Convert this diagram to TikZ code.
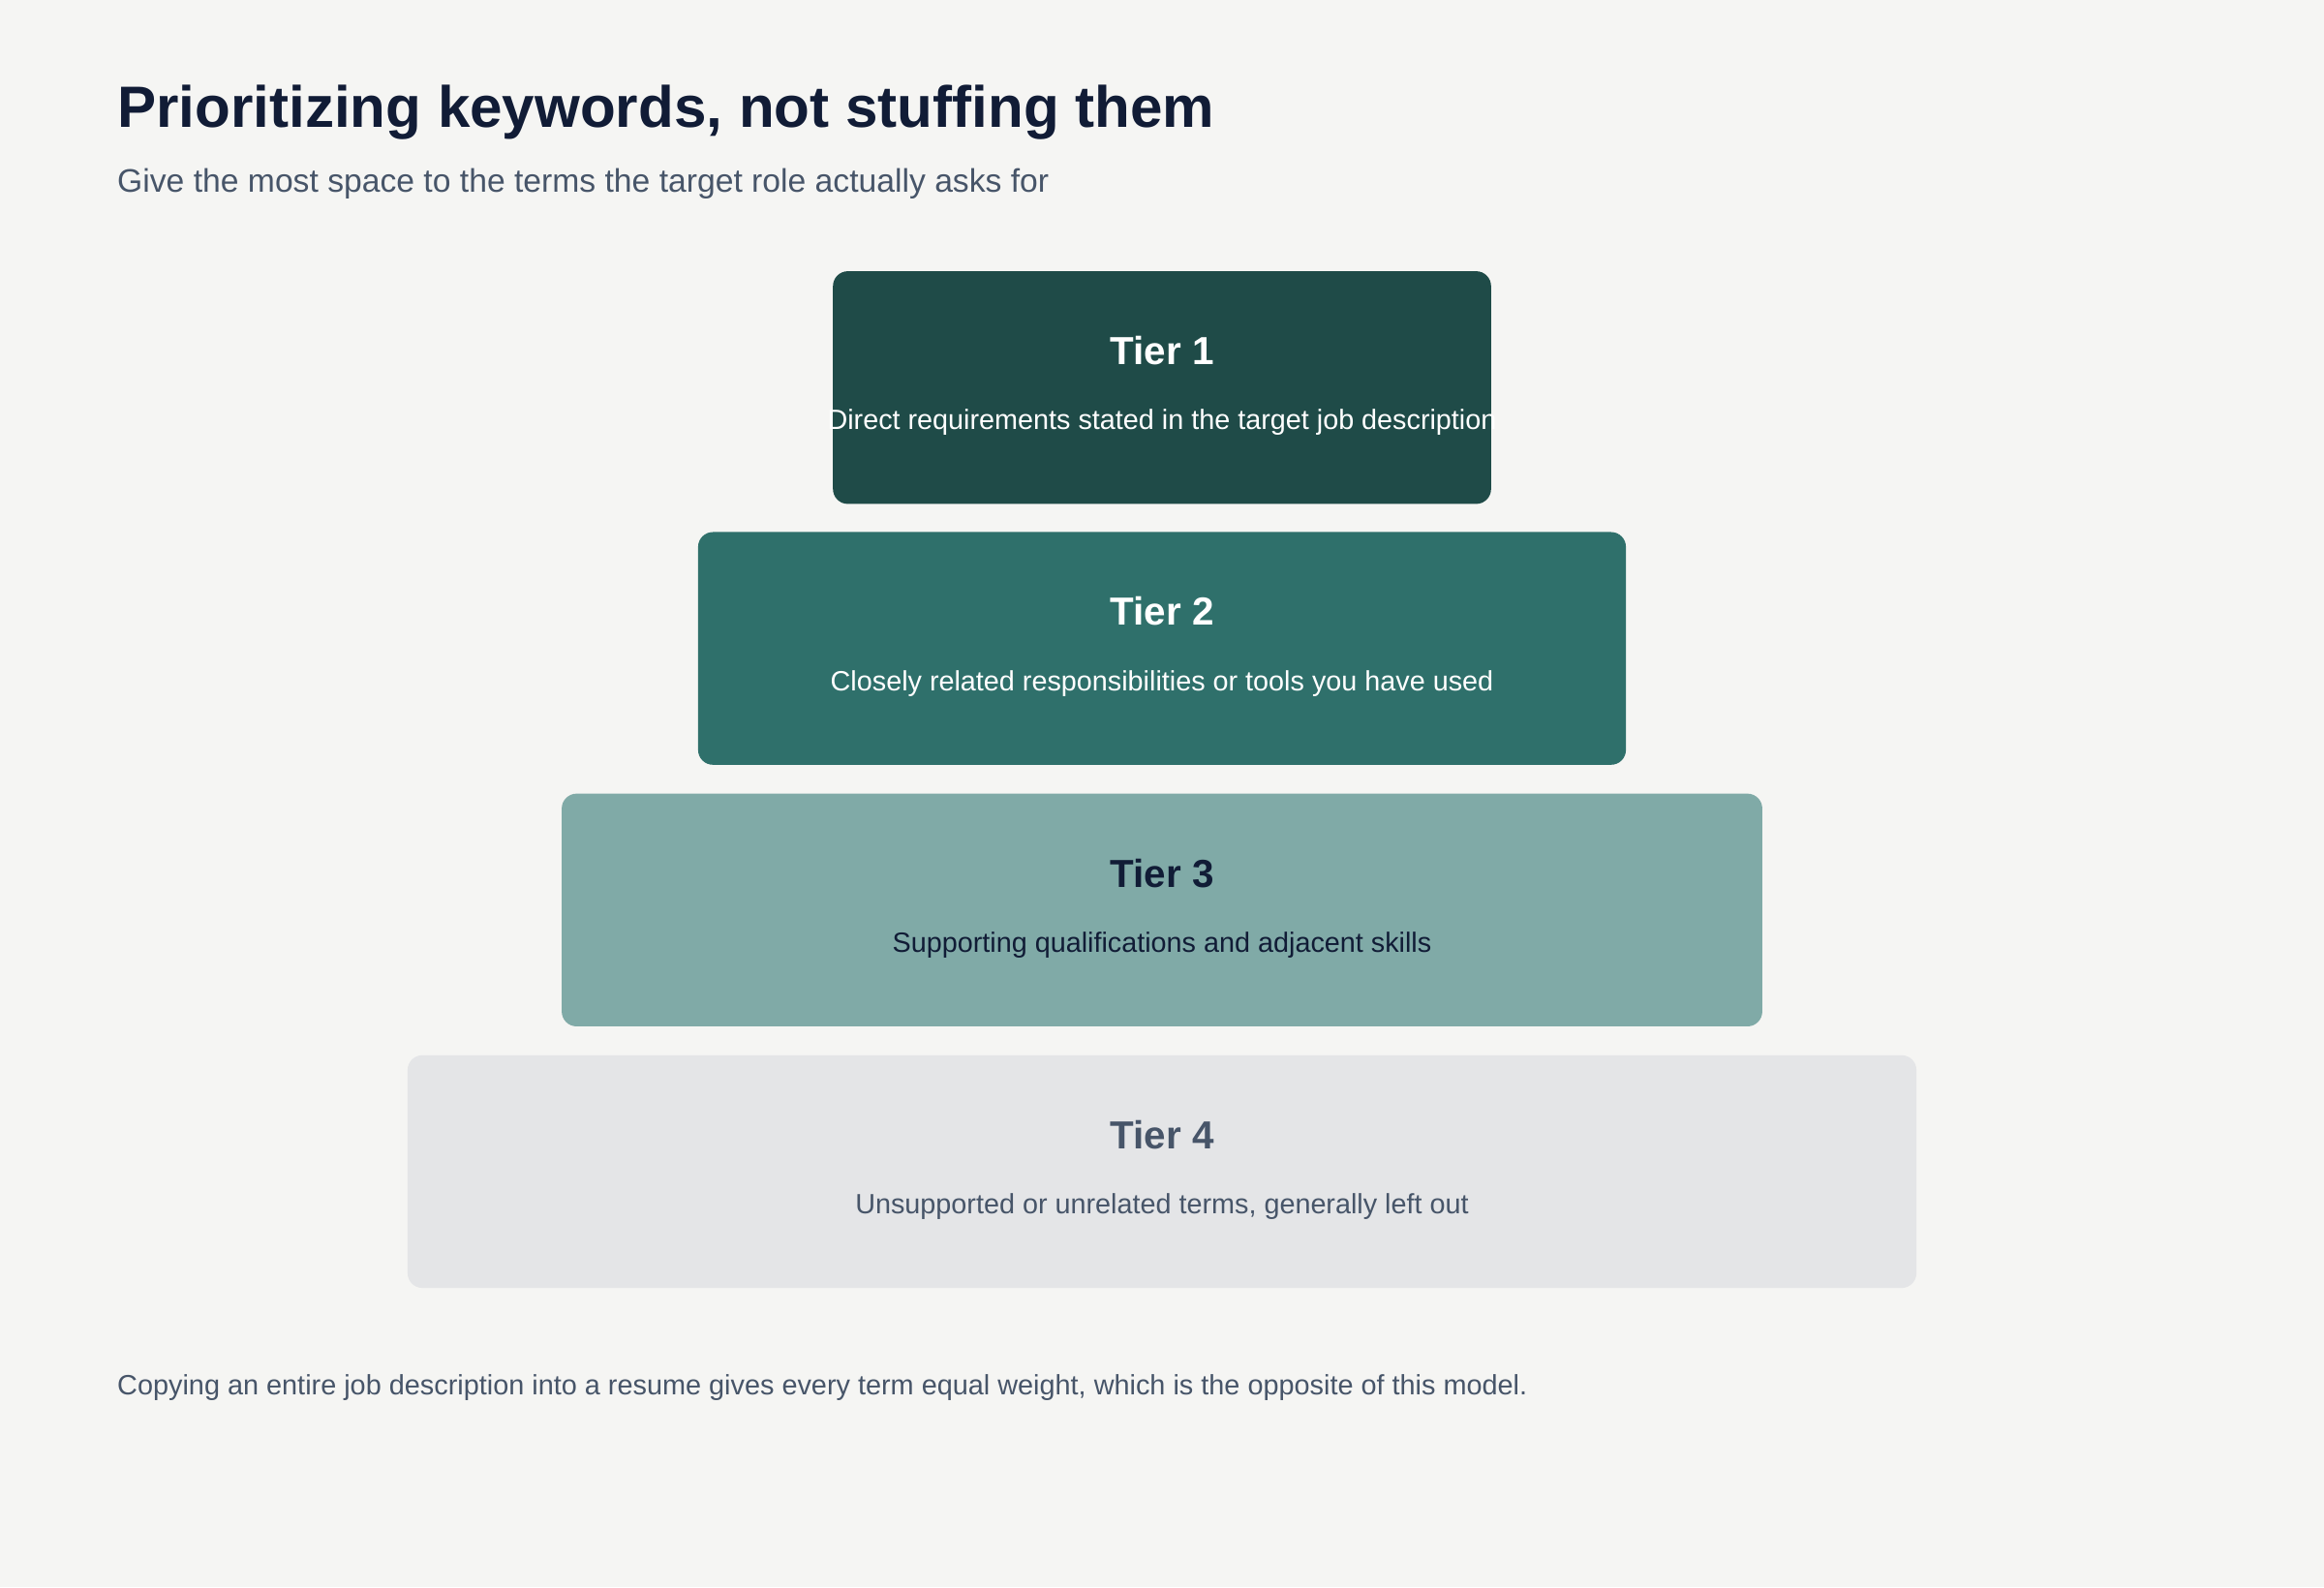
\documentclass[tikz,border=0pt]{standalone}
\usepackage{fontspec}
\setmainfont{Liberation Sans}
\usepackage{tikz}

\definecolor{pagebg}{HTML}{F5F5F3}
\definecolor{ink}{HTML}{111C36}
\definecolor{slate}{HTML}{475569}
\definecolor{tierone}{HTML}{1F4B48}
\definecolor{tiertwo}{HTML}{2F706B}
\definecolor{tierthree}{HTML}{80AAA7}
\definecolor{tierfour}{HTML}{E4E5E7}

\begin{document}
\begin{tikzpicture}[x=1pt, y=-1pt,
    tierbox/.style={rectangle, rounded corners=10pt, minimum height=157pt, inner sep=0pt},
    tierhead/.style={anchor=base, inner sep=0pt, font=\fontsize{26.4}{30}\selectfont\bfseries},
    tierdesc/.style={anchor=base, inner sep=0pt, font=\fontsize{18.8}{22}\selectfont},
    pagetext/.style={anchor=base west, inner sep=0pt}]
    \fill[pagebg] (0, 0) rectangle (1568, 1071);
    \useasboundingbox (0, 0) rectangle (1568, 1071);

    \node[pagetext, text=ink, font=\fontsize{39.3}{44}\selectfont\bfseries] (title) at (79, 86) {Prioritizing keywords, not stuffing them};
    \node[pagetext, text=slate, font=\fontsize{22}{26}\selectfont] (subtitle) at (79, 130) {Give the most space to the terms the target role actually asks for};

    \node[tierbox, fill=tierone, minimum width=444pt] (tier1) at (784, 261.5) {};
    \node[tierbox, fill=tiertwo, minimum width=626pt] (tier2) at (784, 437.5) {};
    \node[tierbox, fill=tierthree, minimum width=810pt] (tier3) at (784, 614) {};
    \node[tierbox, fill=tierfour, minimum width=1018pt] (tier4) at (784, 790.5) {};

    \node[tierhead, text=white] (head1) at ([yshift=15.5pt]tier1.center) {Tier 1};
    \node[tierdesc, text=white] (desc1) at ([yshift=-28.5pt]tier1.center) {Direct requirements stated in the target job description};
    \node[tierhead, text=white] (head2) at ([yshift=15.5pt]tier2.center) {Tier 2};
    \node[tierdesc, text=white] (desc2) at ([yshift=-28.5pt]tier2.center) {Closely related responsibilities or tools you have used};
    \node[tierhead, text=ink] (head3) at ([yshift=15.5pt]tier3.center) {Tier 3};
    \node[tierdesc, text=ink] (desc3) at ([yshift=-28.5pt]tier3.center) {Supporting qualifications and adjacent skills};
    \node[tierhead, text=slate] (head4) at ([yshift=15.5pt]tier4.center) {Tier 4};
    \node[tierdesc, text=slate] (desc4) at ([yshift=-28.5pt]tier4.center) {Unsupported or unrelated terms, generally left out};

    \node[pagetext, text=slate, font=\fontsize{18.85}{23}\selectfont] (footnote) at (79, 941) {Copying an entire job description into a resume gives every term equal weight, which is the opposite of this model.};
\end{tikzpicture}
\end{document}
